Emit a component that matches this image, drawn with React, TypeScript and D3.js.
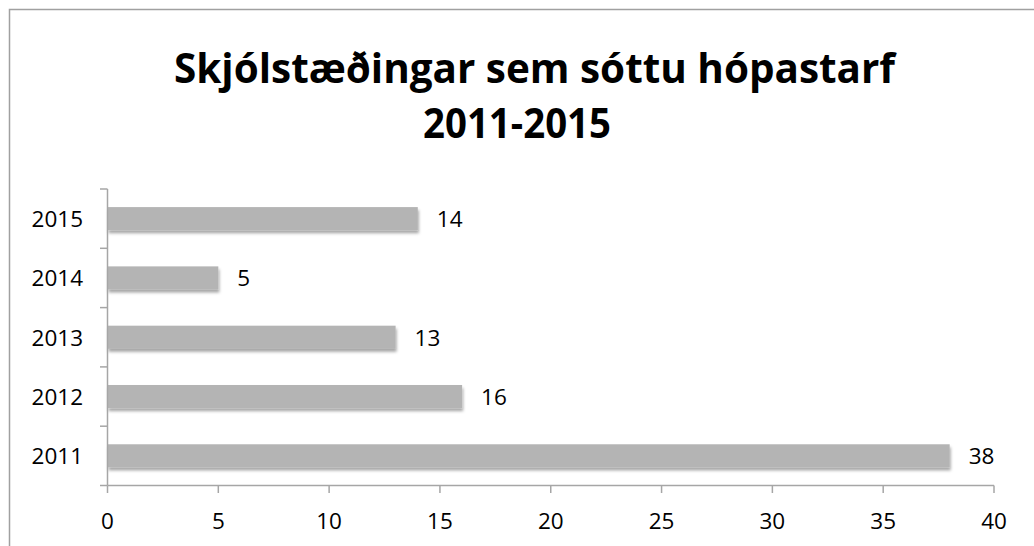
import React from "react";
import * as d3 from "d3";

const years: string[] = ["2011", "2012", "2013", "2014", "2015"];
const values: number[] = [38, 16, 13, 5, 14];
const xTicks: number[] = [0, 5, 10, 15, 20, 25, 30, 35, 40];
const titleLines: string[] = ["Skjólstæðingar sem sóttu hópastarf", "2011-2015"];

const W = 1034;
const H = 546;
const FONT = "'Open Sans', 'Liberation Sans', sans-serif";
const AXIS = "#a6a6a6";

export default function App() {
  const x = d3.scaleLinear().domain([0, 40]).range([107.5, 994]);
  const y = d3
    .scaleBand<string>()
    .domain([...years].reverse())
    .range([189, 485.5])
    .paddingInner(0.61)
    .paddingOuter(0.305);
  const step = y.step();
  const bandEdges = d3.range(years.length + 1).map((i) => 189 + i * step);
  const axisY = 485.5;
  const titleX = [534.5, 517];
  const titleLen = [721, 188];

  return (
    <div style={{ position: "absolute", left: 0, top: 0 }}>
      <svg width={W} height={H} style={{ display: "block" }}>
        <defs>
          <filter id="shadow" x="-5%" y="-30%" width="110%" height="180%">
            <feDropShadow dx="1" dy="3" stdDeviation="1.6" floodColor="#000" floodOpacity="0.35" />
          </filter>
        </defs>
        <rect x={0} y={0} width={W} height={H} fill="#fff" />
        <rect x={9.5} y={9.5} width={W + 20} height={H + 20} fill="none" stroke="#a0a0a0" strokeWidth={1.5} />
        {titleLines.map((t, i) => (
          <text
            key={i}
            x={titleX[i]}
            y={83 + i * 55}
            textAnchor="middle"
            fontFamily={FONT}
            fontWeight="bold"
            fontSize={42}
            textLength={titleLen[i]}
            lengthAdjust="spacingAndGlyphs"
            fill="#000"
          >
            {t}
          </text>
        ))}
        {years.map((yr, i) => (
          <rect
            key={yr}
            x={x(0)}
            y={y(yr)!}
            width={x(values[i]) - x(0)}
            height={y.bandwidth()}
            fill="#b4b4b4"
            filter="url(#shadow)"
          />
        ))}
        <line x1={x(0)} x2={x(0)} y1={bandEdges[0]} y2={axisY} stroke={AXIS} strokeWidth={1.5} />
        {bandEdges.map((b, i) => (
          <line key={i} x1={100} x2={x(0)} y1={b} y2={b} stroke={AXIS} strokeWidth={1.5} />
        ))}
        <line x1={x(0)} x2={x(40)} y1={axisY} y2={axisY} stroke={AXIS} strokeWidth={1.5} />
        {xTicks.map((t) => (
          <line key={t} x1={x(t)} x2={x(t)} y1={axisY} y2={493} stroke={AXIS} strokeWidth={1.5} />
        ))}
        {years.map((yr) => (
          <text
            key={yr}
            x={83}
            y={y(yr)! + y.bandwidth() / 2 + 8.5}
            textAnchor="end"
            fontFamily={FONT}
            fontSize={22.5}
            fill="#000"
          >
            {yr}
          </text>
        ))}
        {years.map((yr, i) => (
          <text
            key={yr}
            x={x(values[i]) + 19}
            y={y(yr)! + y.bandwidth() / 2 + 8.5}
            fontFamily={FONT}
            fontSize={22.5}
            fill="#000"
          >
            {values[i]}
          </text>
        ))}
        {xTicks.map((t) => (
          <text key={t} x={x(t)} y={529} textAnchor="middle" fontFamily={FONT} fontSize={22.5} fill="#000">
            {t}
          </text>
        ))}
      </svg>
    </div>
  );
}
